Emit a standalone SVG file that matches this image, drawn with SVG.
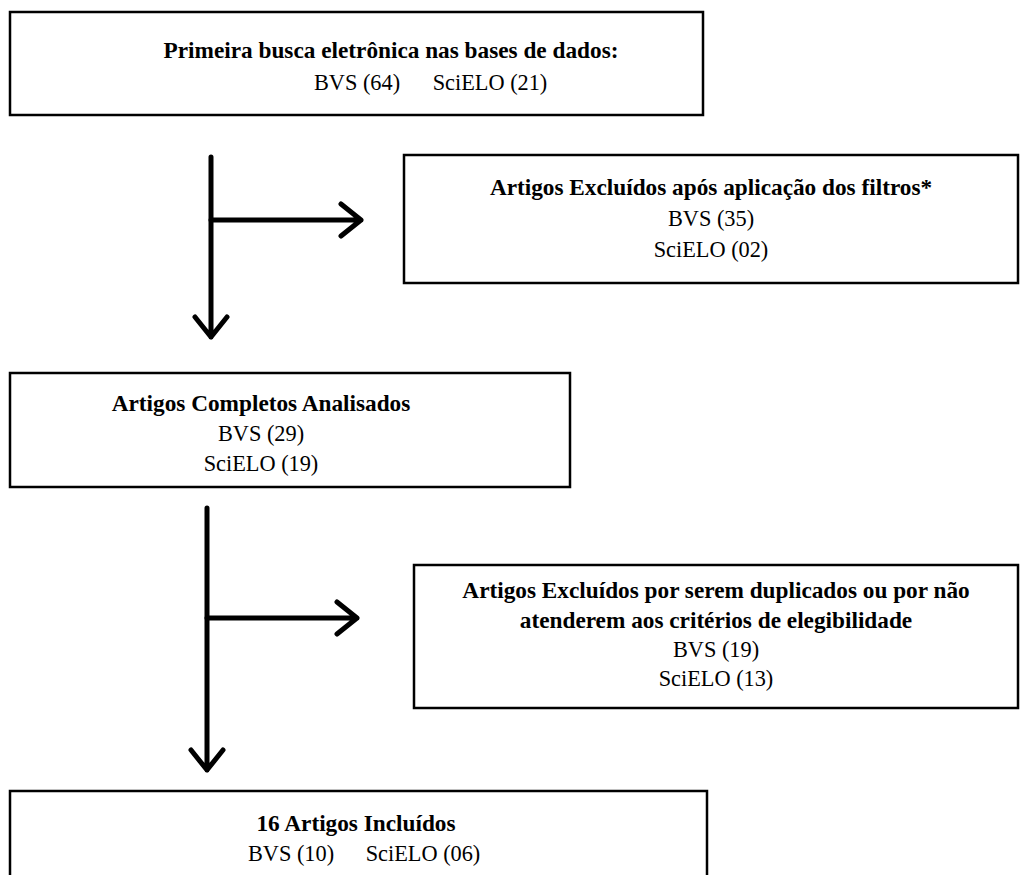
<svg xmlns="http://www.w3.org/2000/svg" width="1035" height="875" viewBox="0 0 1035 875">
<style>
.box{fill:#fff;stroke:#000;stroke-width:2.5}
.t{font-family:"Liberation Serif","Times New Roman",serif;font-size:24px;fill:#000;text-anchor:middle}
.b{font-weight:bold}
.c{fill:none;stroke:#000;stroke-width:5;stroke-linecap:round;stroke-linejoin:round}
</style>
<rect width="1035" height="875" fill="#fff"/>
<g id="n1">
<rect class="box" x="10" y="12" width="693" height="103"/>
<text class="t b" transform="translate(391 58) scale(0.97 1)">Primeira busca eletrônica nas bases de dados:</text>
<text class="t" transform="translate(357 90) scale(0.93 1)">BVS (64)</text>
<text class="t" transform="translate(490 90) scale(0.93 1)">SciELO (21)</text>
</g>
<g id="n2">
<rect class="box" x="404" y="155" width="614" height="128"/>
<text class="t b" transform="translate(711 195) scale(0.97 1)">Artigos Excluídos após aplicação dos filtros*</text>
<text class="t" transform="translate(711 226) scale(0.93 1)">BVS (35)</text>
<text class="t" transform="translate(711 257) scale(0.93 1)">SciELO (02)</text>
</g>
<g id="n3">
<rect class="box" x="10" y="373" width="560" height="114"/>
<text class="t b" transform="translate(261 411) scale(0.97 1)">Artigos Completos Analisados</text>
<text class="t" transform="translate(261 441) scale(0.93 1)">BVS (29)</text>
<text class="t" transform="translate(261 471) scale(0.93 1)">SciELO (19)</text>
</g>
<g id="n4">
<rect class="box" x="414" y="565" width="604" height="143"/>
<text class="t b" transform="translate(716 598) scale(0.97 1)">Artigos Excluídos por serem duplicados ou por não</text>
<text class="t b" transform="translate(716 628) scale(0.97 1)">atenderem aos critérios de elegibilidade</text>
<text class="t" transform="translate(716 657) scale(0.93 1)">BVS (19)</text>
<text class="t" transform="translate(716 686) scale(0.93 1)">SciELO (13)</text>
</g>
<g id="n5">
<rect class="box" x="10" y="791" width="697" height="100"/>
<text class="t b" transform="translate(356 831) scale(0.97 1)">16 Artigos Incluídos</text>
<text class="t" transform="translate(291 861) scale(0.93 1)">BVS (10)</text>
<text class="t" transform="translate(423 861) scale(0.93 1)">SciELO (06)</text>
</g>
<g id="connectors">
<path class="c" d="M211 157 V337 M195 317 L211 337 L227 317"/>
<path class="c" d="M211 220 H361 M341 204 L361 220 L341 236"/>
<path class="c" d="M207 508 V770 M191 750 L207 770 L223 750"/>
<path class="c" d="M207 618 H357 M337 602 L357 618 L337 634"/>
</g>
</svg>
